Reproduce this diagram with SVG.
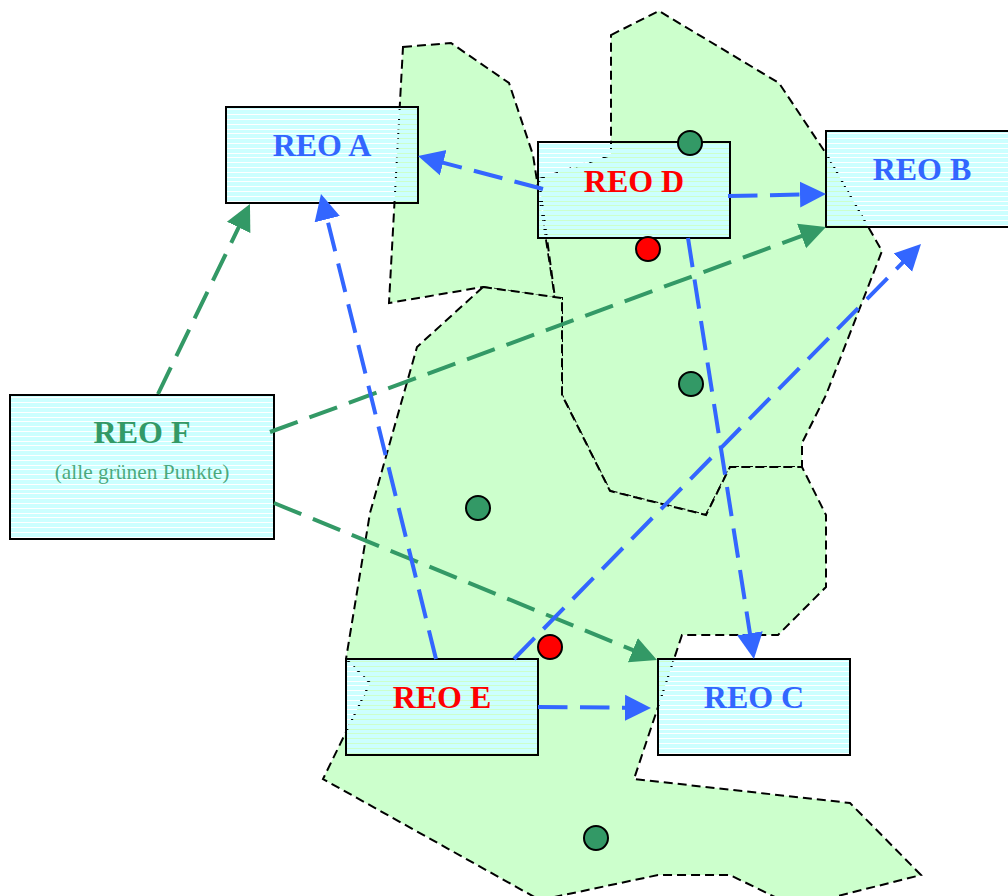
<svg xmlns="http://www.w3.org/2000/svg" width="1008" height="896" viewBox="0 0 1008 896">
<style>
.region{fill:#ccffcc;stroke:#000;stroke-width:2;stroke-dasharray:9 5;stroke-linejoin:miter}
.boxfill{fill:url(#stripes)}
.boxline{fill:none;stroke:#000;stroke-width:2}
.blue{fill:none;stroke:#3366ff;stroke-width:4;stroke-dasharray:29.5 12.5;marker-end:url(#ab)}
.green{fill:none;stroke:#339966;stroke-width:4;stroke-dasharray:29.5 12.5;marker-end:url(#ag)}
.dg{fill:#339966;stroke:#000;stroke-width:2}
.dr{fill:#ff0000;stroke:#000;stroke-width:2}
text{font-family:"Liberation Serif","Times New Roman",serif;text-anchor:middle}
.t{font-size:32px;font-weight:bold}
.tb{fill:#3366ff}.tr{fill:#ff0000}.tg{fill:#339966}
.s{font-size:21.4px;fill:#339966;fill-opacity:.85}
</style>
<defs>
<pattern id="stripes" patternUnits="userSpaceOnUse" width="24" height="24">
<path fill="#ccffff" d="M0 0h24v4H0zM0 5h24v4H0zM0 10h24v3H0zM0 14h24v4H0zM0 19h24v4H0z"/>
</pattern>
<marker id="ab" markerUnits="userSpaceOnUse" markerWidth="28" markerHeight="28" refX="16" refY="14" orient="auto"><path d="M0 1L26 14L0 27z" fill="#3366ff"/></marker>
<marker id="ag" markerUnits="userSpaceOnUse" markerWidth="28" markerHeight="28" refX="16" refY="14" orient="auto"><path d="M0 1L26 14L0 27z" fill="#339966"/></marker>
</defs>
<g id="regions">
<polygon class="region" points="403,47 451,43 509,83 533,155 555,298 483,287 389,303"/>
<polygon class="region" points="611,35 659,11 779,83 827,155 882,251 826,395 802,443 802,467 730,467 706,515 610,491 562,395 562,298 555,298 539,179 611,155"/>
<polygon class="region" points="483,287 562,298 562,395 610,491 706,515 730,467 802,467 826,515 826,587 778,635 682,635 634,779 850,803 921,875 826,899 779,899 730,875 658,875 545,899 538,899 323,779 370,683 346,659 370,513 417,347"/>
</g>
<g id="reo-a"><rect class="boxfill" x="226" y="107" width="192" height="96"/><rect class="boxline" x="226" y="107" width="192" height="96"/><text class="t tb" x="322" y="156">REO A</text></g>
<g id="reo-d"><rect class="boxfill" x="538" y="142" width="192" height="96"/><rect class="boxline" x="538" y="142" width="192" height="96"/><text class="t tr" x="634" y="192">REO D</text></g>
<g id="reo-b"><rect class="boxfill" x="826" y="131" width="192" height="96"/><rect class="boxline" x="826" y="131" width="192" height="96"/><text class="t tb" x="922" y="180">REO B</text></g>
<g id="reo-e"><rect class="boxfill" x="346" y="659" width="192" height="96"/><rect class="boxline" x="346" y="659" width="192" height="96"/><text class="t tr" x="442" y="708">REO E</text></g>
<g id="reo-c"><rect class="boxfill" x="658" y="659" width="192" height="96"/><rect class="boxline" x="658" y="659" width="192" height="96"/><text class="t tb" x="754" y="708">REO C</text></g>
<g id="reo-f"><rect class="boxfill" x="10" y="395" width="264" height="144"/><rect class="boxline" x="10" y="395" width="264" height="144"/><text class="t tg" x="142" y="443">REO F</text><text class="s" x="142" y="479">(alle grünen Punkte)</text></g>
<g id="points">
<circle class="dg" cx="690" cy="143" r="12"/>
<circle class="dg" cx="691" cy="384" r="12"/>
<circle class="dg" cx="478" cy="508" r="12"/>
<circle class="dg" cx="596" cy="838" r="12"/>
<circle class="dr" cx="648" cy="249" r="12"/>
<circle class="dr" cx="550" cy="647" r="12"/>
</g>
<g id="connectors">
<line class="green" x1="158" y1="394" x2="245.6" y2="213"/>
<line class="green" x1="270" y1="432" x2="816.6" y2="230.5"/>
<line class="green" x1="274" y1="503" x2="647.7" y2="656.2"/>
<line class="blue" x1="543" y1="189" x2="427.7" y2="158.6"/>
<line class="blue" x1="728" y1="196" x2="816" y2="194.2"/>
<line class="blue" x1="688" y1="238" x2="752.4" y2="649.1"/>
<line class="blue" x1="436" y1="659" x2="323.4" y2="203.7"/>
<line class="blue" x1="514" y1="659" x2="914" y2="251.1"/>
<line class="blue" x1="538" y1="707" x2="641" y2="707.9"/>
</g>
</svg>
